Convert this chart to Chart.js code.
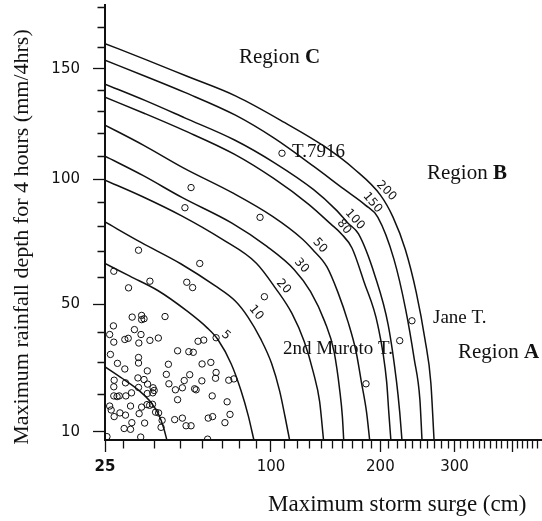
<!DOCTYPE html>
<html>
<head>
<meta charset="utf-8">
<script src="https://cdn.jsdelivr.net/npm/chart.js@4.4.1/dist/chart.umd.min.js"></script>
<style>
  html, body { margin: 0; padding: 0; background: #fff; }
  canvas { display: block; }
</style>
</head>
<body>
<canvas id="chart" width="542" height="521"></canvas>
<script>
// axis ticks
const xTicks = [25, 30, 40, 50, 60, 70, 80, 90, 100, 110, 120, 130, 140, 150, 160, 170, 180, 190,
    200, 210, 220, 230, 240, 250, 260, 270, 280, 290, 300, 310, 320, 330, 340, 350, 360, 370, 380,
    390, 400, 410, 420, 430, 440, 450];
const xMajor = [25, 100, 200, 300, 400];
const xLabels = [25, 100, 200, 300];
const yTicks = [10, 20, 30, 40, 50, 60, 70, 80, 90, 100, 110, 120, 130, 140, 150, 160, 170, 180];
const yLabels = [10, 50, 100, 150];

// return period curves: [storm surge cm, rainfall mm/4hrs]
const curve200 = [[25, 162.1], [37, 154.4], [52.4, 146.7], [77.7, 137.2], [110, 125], [143, 114.2],
    [171.4, 104.4], [200.3, 93.1], [215, 84], [230.4, 70.9], [244.7, 54.4], [256.6, 37.6], [264.8, 23.7], [269.4, 8]];
const curve150 = [[25, 154.1], [37, 146.4], [52.2, 138.8], [77.4, 128.4], [102.5, 117.9], [133.5, 105.4],
    [160.8, 95.8], [183.2, 89], [197, 84], [216.2, 67], [230.8, 48.2], [242.1, 31], [249.6, 18.7], [252.5, 8]];
const curve100 = [[25, 142.8], [36.7, 135.2], [51.9, 127.2], [76.9, 117.2], [102.2, 107.2], [133.1, 95.5],
    [153.4, 87], [164.9, 81.6], [175.9, 77.1], [193.6, 60.9], [209.3, 42.5], [219.4, 23.8], [223.3, 15.1], [226.1, 8]];
const curve80 = [[25, 136.7], [36.6, 129.2], [51.8, 121.4], [76.7, 110.9], [101.9, 100.3], [128.4, 89.5],
    [148.3, 81.2], [158.6, 77.1], [169.1, 71.5], [181.8, 58.3], [197.1, 42.5], [207.4, 23.8], [209.9, 15.1], [212.4, 8]];
const curve50 = [[25, 123.9], [36.3, 114.8], [51.3, 104.9], [76.1, 94], [101.1, 84.3], [123.4, 75.2],
    [132.4, 70.8], [144.9, 64.1], [155.1, 54.5], [165.1, 43.7], [173.4, 33.4], [178.9, 23.9], [184.5, 15.1], [187.9, 8]];
const curve30 = [[25, 110], [36, 101.6], [50.9, 92.1], [75.4, 81.5], [97.2, 72.1], [117.2, 63],
    [130.5, 54.7], [142.9, 43.8], [151.5, 33.5], [157.1, 20.9], [159.5, 13.9], [160.8, 8]];
const curve20 = [[25, 99.6], [35.8, 92.6], [50.6, 84.5], [69.7, 75.1], [90.2, 65.5], [103.3, 55.9],
    [115.4, 46.7], [125.2, 36.9], [132.8, 26.9], [138.3, 18.1], [141.8, 8]];
const curve10 = [[25, 82], [35.4, 73.7], [50.2, 65.3], [66.4, 56.8], [77.3, 51.2], [84.9, 45.4],
    [93.1, 37.7], [100.4, 29.7], [106.2, 21.1], [110.1, 14], [113.6, 8]];
const curve5 = [[25, 65.4], [31.9, 60.5], [41.2, 55.1], [52.7, 47.7], [62.3, 41.6], [67.8, 37.5],
    [75, 29.5], [80.7, 21.2], [85.1, 14.1], [88.6, 8]];
const curveLow = [[25, 28.6], [29.6, 25], [35, 21.1], [39, 17.6], [41.7, 14.2], [43.5, 10.7], [44.6, 8]];

// observed typhoons
const namedStorms = [[107.9, 111.3], [239, 44.1], [223.3, 37.2], [183.9, 23.3]];
const observed = [
    [34.6, 70.6], [27.3, 62.4], [38.4, 58.6], [31.5, 56.1], [52, 87.9], [54.7, 96.4], [95.5, 52.8],
    [92.6, 83.9], [58.7, 65.4], [52.8, 58.2], [55.4, 56.2],
    [32.6, 45.4], [35.6, 46], [36.4, 44.8], [35.6, 44.5], [43.9, 45.6], [27.2, 42.3], [33.3, 41], [26.2, 39.3],
    [35.4, 39.3], [27.3, 36.7], [30.4, 37.6], [31.4, 38], [34.7, 36.4], [38.4, 37.3], [41.4, 38.1], [57.9, 37],
    [60.6, 37.4], [66.8, 38.2],
    [26.4, 32.6], [34.6, 31.6], [48.9, 33.8], [53.7, 33.5], [55.7, 33.3], [28.3, 29.7], [34.6, 29.8], [30.4, 27.9],
    [37.5, 27.3], [45.2, 29.4], [59.8, 29.5], [64.1, 30], [44.4, 26.2], [54.1, 26.1], [66.8, 26.8], [66.5, 25],
    [27.4, 24.4], [34.4, 25.1], [36.4, 24.6], [59.7, 24.2], [73.6, 24.4], [76.5, 24.8], [27.3, 22.4], [30.6, 23.6],
    [37.6, 23.2], [45.4, 23.3], [48, 21.5], [50.9, 22.1], [51.7, 24.3], [39.5, 22.1], [39.9, 21.3], [34.6, 22.2],
    [56.3, 21.8], [57, 21.5],
    [27.3, 19.7], [28.2, 19.5], [28.8, 19.7], [30.7, 19.7], [32.4, 20.6], [37.5, 20.4], [39.4, 20.6], [48.9, 18.6],
    [64.8, 19.7], [72.7, 18],
    [26.2, 16.8], [26.6, 15.7], [32.1, 16.8], [35.6, 16.5], [37.4, 17.2], [38.3, 17], [39.3, 17.3], [40.4, 15.1],
    [27.4, 13.9], [29, 14.9], [30.6, 14.3], [34.8, 14.7], [42.8, 12.9], [47.7, 13.1], [50.9, 13.5], [52.5, 11.5],
    [54.7, 11.5], [62.8, 13.5], [65, 13.9], [74.3, 14.5], [71.5, 12.3], [41.5, 14.9],
    [30.2, 10.8], [32.1, 10.6], [32.5, 12.3], [36.6, 12.2], [42.4, 11.1], [35.3, 8.7], [25.5, 8.8], [62.5, 8.2]
];

// labels on the curves (placed in data units)
const curveLabels = [
    { text: '5', x: 72, y: 39, angle: 40 },
    { text: '10', x: 90, y: 47, angle: 50 },
    { text: '20', x: 109, y: 56.6, angle: 48 },
    { text: '30', x: 123, y: 64.6, angle: 48 },
    { text: '50', x: 138.6, y: 72.4, angle: 48 },
    { text: '80', x: 161, y: 80, angle: 52 },
    { text: '100', x: 172, y: 83, angle: 48 },
    { text: '150', x: 191, y: 90, angle: 50 },
    { text: '200', x: 207, y: 95, angle: 45 }
];

const serif = '"Liberation Serif", "Times New Roman", serif';
const sans = '"DejaVu Sans", sans-serif';

// power-law axis, like the paper's scales
class PowerScale extends Chart.LinearScale {
    buildTicks() {
        return (this.options.tickValues || []).map(v => ({ value: v }));
    }
    getPixelForValue(value) {
        const p = this.options.exponent;
        const a = Math.pow(this.min, p), b = Math.pow(this.max, p);
        return this.getPixelForDecimal((Math.pow(value, p) - a) / (b - a));
    }
    getValueForPixel(pixel) {
        const p = this.options.exponent;
        const a = Math.pow(this.min, p), b = Math.pow(this.max, p);
        return Math.pow(a + this.getDecimalForPixel(pixel) * (b - a), 1 / p);
    }
}
PowerScale.id = 'power';
PowerScale.defaults = Chart.LinearScale.defaults;
Chart.register(PowerScale);

function fixBox(size, horizontal) {
    return scale => {
        if (horizontal) scale.height = size; else scale.width = size;
        scale.paddingLeft = scale.paddingRight = scale.paddingTop = scale.paddingBottom = 0;
    };
}

function toPoints(arr) {
    return arr.map(([x, y]) => ({ x, y }));
}

const textPlugin = {
    id: 'texts',
    beforeDraw(chart) {
        const c = chart.ctx;
        c.save();
        c.fillStyle = '#fff';
        c.fillRect(0, 0, chart.width, chart.height);
        c.restore();
    },
    afterDatasetsDraw(chart) {
        const ctx = chart.ctx;
        const xs = chart.scales.x, ys = chart.scales.y;
        ctx.save();
        ctx.fillStyle = '#111';

        curveLabels.forEach(l => {
            ctx.save();
            ctx.translate(xs.getPixelForValue(l.x), ys.getPixelForValue(l.y));
            ctx.rotate(l.angle * Math.PI / 180);
            ctx.font = '12px ' + sans;
            ctx.textAlign = 'center';
            ctx.textBaseline = 'middle';
            ctx.fillText(l.text, 0, 0);
            ctx.restore();
        });

        ctx.textAlign = 'left';
        ctx.textBaseline = 'alphabetic';
        const region = (letter, x, y) => {
            ctx.font = '21px ' + serif;
            ctx.fillText('Region ', x, y);
            const w = ctx.measureText('Region ').width;
            ctx.font = 'bold 21px ' + serif;
            ctx.fillText(letter, x + w, y);
        };
        region('C', 239, 63);
        region('B', 427, 179);
        region('A', 458, 358);

        ctx.font = '19px ' + serif;
        ctx.fillText('T.7916', 292, 157);
        ctx.fillText('Jane T.', 433, 323);
        ctx.fillText('2nd Muroto T.', 283, 354);

        ctx.font = '23px ' + serif;
        ctx.fillText('Maximum storm surge (cm)', 268, 511);

        ctx.save();
        ctx.translate(22, 237);
        ctx.rotate(-Math.PI / 2);
        ctx.font = '22px ' + serif;
        ctx.textAlign = 'center';
        ctx.textBaseline = 'middle';
        ctx.fillText('Maximum rainfall depth for 4 hours (mm/4hrs)', 0, 0);
        ctx.restore();

        ctx.restore();
    }
};

const curves = [curve200, curve150, curve100, curve80, curve50, curve30, curve20, curve10, curve5, curveLow];
const datasets = curves.map(c => ({
    data: toPoints(c),
    showLine: true,
    pointRadius: 0,
    borderColor: '#111',
    borderWidth: 1.5,
    cubicInterpolationMode: 'monotone',
    fill: false
}));
datasets.push({
    data: toPoints(observed.concat(namedStorms)),
    showLine: false,
    pointRadius: 3.2,
    pointBorderWidth: 1,
    pointBorderColor: '#111',
    pointBackgroundColor: 'rgba(0,0,0,0)'
});

new Chart(document.getElementById('chart'), {
    type: 'scatter',
    data: { datasets },
    options: {
        responsive: false,
        animation: false,
        layout: { padding: { top: 5, left: 0, right: 0, bottom: 0 }, autoPadding: false },
        plugins: { legend: { display: false }, tooltip: { enabled: false } },
        scales: {
            x: {
                type: 'power',
                exponent: 0.27,
                min: 25,
                max: 460,
                position: 'bottom',
                tickValues: xTicks,
                afterFit: fixBox(81, true),
                border: { display: true, color: '#111', width: 2 },
                grid: {
                    drawOnChartArea: false,
                    tickLength: 12,
                    tickWidth: 1.3,
                    tickColor: '#111',
                    tickBorderDash: ctx => (ctx.tick && xMajor.includes(ctx.tick.value)) ? [] : [7.5, 30]
                },
                ticks: {
                    autoSkip: false,
                    maxRotation: 0,
                    minRotation: 0,
                    padding: 6,
                    color: '#111',
                    font: ctx => ({ family: sans, size: 15, weight: (ctx.tick && ctx.tick.value === 25) ? 'bold' : 'normal' }),
                    callback: v => xLabels.includes(v) ? String(v) : ''
                }
            },
            y: {
                type: 'power',
                exponent: 0.76,
                min: 8,
                max: 181,
                position: 'left',
                tickValues: yTicks,
                afterFit: fixBox(105, false),
                border: { display: true, color: '#111', width: 2 },
                grid: {
                    drawOnChartArea: false,
                    tickLength: 12,
                    tickWidth: 1.3,
                    tickColor: '#111',
                    tickBorderDash: ctx => (ctx.tick && yLabels.includes(ctx.tick.value)) ? [] : [0, 4.5, 7.5, 30]
                },
                ticks: {
                    autoSkip: false,
                    padding: 13,
                    color: '#111',
                    font: { family: sans, size: 15 },
                    callback: v => yLabels.includes(v) ? String(v) : ''
                }
            }
        }
    },
    plugins: [textPlugin]
});
</script>
</body>
</html>
